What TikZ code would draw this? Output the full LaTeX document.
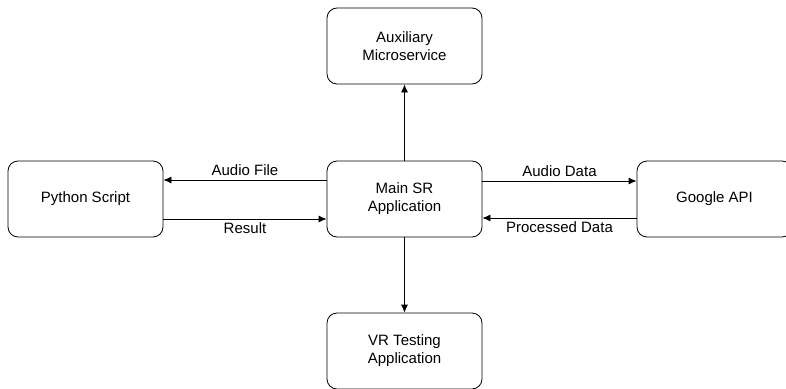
\documentclass[tikz,border=0pt]{standalone}
\usepackage{fontspec}
\setmainfont{Liberation Sans}
\usetikzlibrary{arrows.meta}
\begin{document}
\begin{tikzpicture}
[x=1pt,y=-1pt,%
  boxDecorate/.style={shape=rectangle,rounded corners=10pt,draw,line width=0.8pt,
    minimum width=155pt,minimum height=76pt,align=center,
    font=\fontsize{15pt}{18pt}\selectfont},
  arrowDecorate/.style={-{Latex[length=8pt,width=7pt]},line width=0.8pt},
  labelDecorate/.style={font=\fontsize{15pt}{18pt}\selectfont,inner sep=3.5pt}]
\useasboundingbox (0,0) rectangle (786,388);
%% boxes
\foreach \nodename/\x/\y/\txt in {
  python/85.5/199/{Python Script}, main/404.5/199/{Main SR\\Application},
  google/714.5/199/{Google API}, aux/404.5/46/{Auxiliary\\Microservice},
  vr/404.5/351/{VR Testing\\Application}}
{
  \node (\nodename) at (\x,\y) [boxDecorate] {\txt};
}
%% connectors
\draw[arrowDecorate] ([yshift=19pt]main.west) -- node[labelDecorate,above] {Audio File} ([yshift=19pt]python.east);
\draw[arrowDecorate] ([yshift=-20pt]python.east) -- node[labelDecorate,below] {Result} ([yshift=-20pt]main.west);
\draw[arrowDecorate] ([yshift=18pt]main.east) -- node[labelDecorate,above] {Audio Data} ([yshift=18pt]google.west);
\draw[arrowDecorate] ([yshift=-19pt]google.west) -- node[labelDecorate,below] {Processed Data} ([yshift=-19pt]main.east);
\draw[arrowDecorate] (main) -- (aux);
\draw[arrowDecorate] (main) -- (vr);
\end{tikzpicture}
\end{document}
